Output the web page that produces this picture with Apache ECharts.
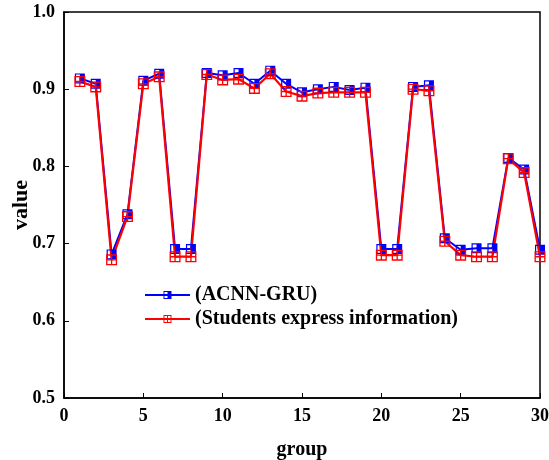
<!DOCTYPE html>
<html lang="en">
<head>
    <meta charset="UTF-8"/>
    <script src="https://cdn.jsdelivr.net/npm/echarts@6/dist/echarts.min.js"></script>
    <title>group / value</title>
</head>
<body style="margin:0">
<div id="main" style="width: 549px;height:460px;"></div>
<script type="text/javascript">
    // values
    var groups = [1,2,3,4,5,6,7,8,9,10,11,12,13,14,15,16,17,18,19,20,21,22,23,24,25,26,27,28,29,30];
    var acnnGru = [0.914,0.907,0.686,0.738,0.911,0.920,0.693,0.693,0.921,0.918,0.921,0.907,0.924,0.907,0.896,
                   0.900,0.903,0.899,0.902,0.693,0.693,0.903,0.905,0.707,0.692,0.694,0.694,0.811,0.796,0.692];
    var students = [0.910,0.903,0.679,0.735,0.907,0.916,0.683,0.683,0.919,0.912,0.913,0.901,0.920,0.897,0.891,
                    0.895,0.896,0.896,0.896,0.685,0.685,0.900,0.898,0.703,0.685,0.683,0.683,0.810,0.792,0.683];
    var seriesNames = ['(ACNN-GRU)', '(Students express information)'];

    // square, right half filled
    var halfBox = 'path://M0,0L10,0L10,10L0,10Z M1.2,1.2L1.2,8.8L8.8,8.8L8.8,1.2Z M5,1.2L8.8,1.2L8.8,8.8L5,8.8Z';
    // square with cross
    var crossBox = 'path://M0,0L10,0L10,10L0,10Z M1.2,1.2L1.2,8.8L8.8,8.8L8.8,1.2Z M4.4,1.2L5.6,1.2L5.6,8.8L4.4,8.8Z M1.2,4.4L8.8,4.4L8.8,5.6L1.2,5.6Z';

    function pairs(vals) {
        var out = [];
        for (var i = 0; i < groups.length; i++) {
            out.push([groups[i], vals[i]]);
        }
        return out;
    }

    var font = 'Liberation Serif';
    var myChart = echarts.init(document.getElementById('main'));

    var option = {
        animation: false,
        grid: {
            left: 64, right: 9, top: 12, bottom: 62,
            outerBoundsMode: 'none',
            containLabel: false,
            show: true, borderColor: '#000', borderWidth: 1.5
        },
        legend: {
            orient: 'vertical',
            left: 139,
            top: 280,
            itemWidth: 45,
            itemHeight: 10,
            itemGap: 4,
            textStyle: {fontFamily: font, fontWeight: 'bold', fontSize: 20, color: '#000'},
            data: seriesNames
        },
        xAxis: {
            type: 'value',
            min: 0, max: 30, interval: 5,
            name: 'group',
            nameLocation: 'middle',
            nameGap: 42,
            nameTextStyle: {fontFamily: font, fontWeight: 'bold', fontSize: 20, color: '#000'},
            axisLine: {lineStyle: {color: '#000', width: 1.5}},
            axisTick: {inside: true, length: 5, lineStyle: {color: '#000'}},
            axisLabel: {fontFamily: font, fontWeight: 'bold', fontSize: 18, color: '#000', margin: 9},
            splitLine: {show: false}
        },
        yAxis: {
            type: 'value',
            min: 0.5, max: 1.0, interval: 0.1,
            name: 'value',
            nameLocation: 'middle',
            nameGap: 32,
            nameMoveOverlap: false,
            nameTextStyle: {fontFamily: font, fontWeight: 'bold', fontSize: 22, color: '#000'},
            axisLine: {show: true, lineStyle: {color: '#000', width: 1.5}},
            axisTick: {show: true, inside: true, length: 5, lineStyle: {color: '#000'}},
            axisLabel: {fontFamily: font, fontWeight: 'bold', fontSize: 18, color: '#000', margin: 9,
                formatter: function (v) { return v.toFixed(1); }},
            splitLine: {show: false}
        },
        series: [
            {
                name: seriesNames[0],
                type: 'line',
                data: pairs(acnnGru),
                symbol: halfBox,
                symbolSize: 10,
                itemStyle: {color: '#0000ff'},
                lineStyle: {color: '#0000ff', width: 2}
            },
            {
                name: seriesNames[1],
                type: 'line',
                data: pairs(students),
                symbol: crossBox,
                symbolSize: 11,
                itemStyle: {color: '#ff0000'},
                lineStyle: {color: '#ff0000', width: 2.2}
            }
        ]
    };

    myChart.setOption(option);
</script>
</body>
</html>
